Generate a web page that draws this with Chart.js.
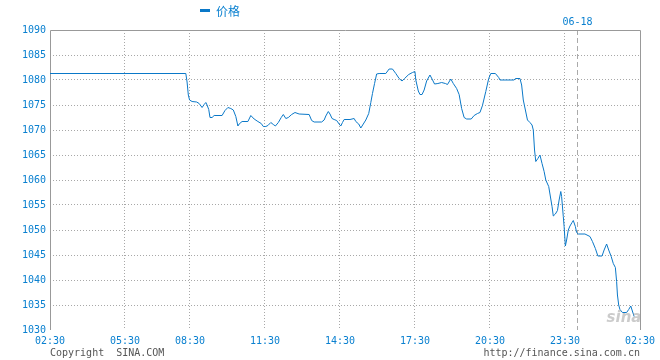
<!DOCTYPE html>
<html>
<head>
<meta charset="utf-8">
<script src="https://cdn.jsdelivr.net/npm/chart.js@4/dist/chart.umd.min.js"></script>
<style>
html,body{margin:0;padding:0;background:#fff;}
#wrap{width:660px;height:360px;position:relative;}
</style>
</head>
<body>
<div id="wrap"><canvas id="c" width="660" height="360"></canvas></div>
<script>
// ---- data ----
const seriesName = '价格';
const tickPositions = [0, 180, 336, 516, 696, 876, 1056, 1236, 1416];
const tickLabels = ['02:30', '05:30', '08:30', '11:30', '14:30', '17:30', '20:30', '23:30', '02:30'];
const dayBreak = 1266;
const dayLabel = '06-18';
const yTicks = [1030, 1035, 1040, 1045, 1050, 1055, 1060, 1065, 1070, 1075, 1080, 1085, 1090];

const minutes = [0,326,329,332,335,341,352,358,365,370,374,377,381,384,389,394,413,420,427,434,440,446,451,454,461,475,482,490,499,507,512,518,523,530,536,541,548,555,560,566,572,580,588,598,622,628,634,652,658,662,668,672,677,682,688,694,698,702,706,720,730,734,741,746,752,758,765,770,774,779,784,790,806,814,822,830,838,845,851,861,870,876,878,884,888,893,898,904,912,917,923,931,940,949,954,962,968,976,982,988,994,1000,1011,1018,1026,1032,1038,1046,1053,1058,1069,1077,1080,1114,1117,1128,1132,1136,1141,1146,1152,1157,1160,1163,1166,1171,1176,1181,1186,1190,1197,1200,1205,1208,1213,1218,1222,1226,1228,1232,1234,1237,1240,1244,1248,1253,1256,1261,1264,1268,1284,1296,1302,1309,1315,1325,1330,1336,1341,1347,1352,1357,1360,1362,1365,1368,1374,1384,1389,1394,1397,1402];
const prices = [1081.3,1081.3,1079.6,1077.0,1076.0,1075.7,1075.6,1075.3,1074.5,1075.1,1075.5,1075.0,1074.1,1072.5,1072.5,1072.9,1072.9,1073.9,1074.5,1074.3,1074.0,1072.7,1070.8,1071.2,1071.7,1071.7,1072.9,1072.2,1071.7,1071.3,1070.7,1070.7,1070.9,1071.5,1071.1,1070.8,1071.5,1072.5,1073.1,1072.3,1072.5,1073.1,1073.5,1073.2,1073.1,1071.9,1071.6,1071.6,1072.0,1072.8,1073.7,1073.2,1072.3,1072.1,1071.9,1071.2,1070.8,1071.5,1072.1,1072.1,1072.3,1071.7,1071.2,1070.4,1071.2,1072.0,1073.3,1075.5,1077.3,1079.3,1081.2,1081.3,1081.3,1082.2,1082.2,1081.3,1080.3,1079.8,1080.3,1081.1,1081.5,1081.7,1080.0,1077.8,1077.1,1077.1,1078.0,1079.8,1081.0,1080.2,1079.2,1079.3,1079.5,1079.3,1079.1,1080.2,1079.3,1078.3,1077.1,1074.3,1072.5,1072.2,1072.2,1072.9,1073.3,1073.5,1074.9,1077.7,1080.3,1081.3,1081.3,1080.5,1080.0,1080.0,1080.3,1080.3,1079.0,1076.0,1074.0,1072.0,1071.5,1071.0,1070.0,1066.0,1063.7,1064.3,1065.0,1063.3,1061.7,1060.0,1058.7,1057.2,1054.7,1052.8,1053.2,1053.9,1056.0,1057.7,1056.7,1052.7,1050.7,1046.8,1048.0,1050.0,1050.8,1051.5,1051.9,1050.7,1049.5,1049.2,1049.2,1048.7,1047.7,1046.3,1044.8,1044.8,1046.0,1047.2,1046.0,1044.7,1043.3,1042.5,1039.7,1037.0,1035.0,1034.1,1033.5,1033.5,1034.1,1034.8,1034.0,1032.7];

// ---- style ----
const BLUE = '#0a78c8';
const LABEL_BLUE = '#0a80d0';
const MONO = '"DejaVu Sans Mono", "Liberation Mono", monospace';

const framePlugin = {
  id: 'frame',
  beforeDatasetsDraw(chart) {
    const {ctx, chartArea: a, scales} = chart;
    ctx.save();
    // day break dashed line
    const dx = Math.round(scales.x.getPixelForValue(dayBreak)) + 0.5;
    ctx.strokeStyle = '#aaaaaa';
    ctx.lineWidth = 1;
    ctx.setLineDash([5, 3]);
    ctx.beginPath();
    ctx.moveTo(dx, a.top);
    ctx.lineTo(dx, a.bottom);
    ctx.stroke();
    ctx.setLineDash([]);
    // frame (top, left, right)
    ctx.strokeStyle = '#999999';
    const l = Math.round(a.left) + 0.5, r = Math.round(a.right) + 0.5, t = Math.round(a.top) + 0.5;
    ctx.beginPath();
    ctx.moveTo(l, a.bottom);
    ctx.lineTo(l, t);
    ctx.lineTo(r, t);
    ctx.lineTo(r, a.bottom);
    ctx.stroke();
    ctx.restore();
  },
  afterDraw(chart) {
    const {ctx, chartArea: a, scales} = chart;
    ctx.save();
    // day label
    ctx.font = '10px ' + MONO;
    ctx.fillStyle = LABEL_BLUE;
    ctx.textAlign = 'center';
    ctx.textBaseline = 'middle';
    ctx.fillText(dayLabel, scales.x.getPixelForValue(dayBreak), 22);
    // legend
    const ds = chart.data.datasets[0];
    ctx.fillStyle = ds.borderColor;
    ctx.fillRect(200, 9, 10, 3);
    ctx.font = '12px "Noto Sans CJK SC", sans-serif';
    ctx.fillStyle = LABEL_BLUE;
    ctx.textAlign = 'left';
    ctx.fillText(ds.label, 216, 11);
    // footer
    ctx.font = '10px ' + MONO;
    ctx.fillStyle = '#555555';
    ctx.textAlign = 'left';
    ctx.fillText('Copyright  SINA.COM', a.left, 353);
    ctx.textAlign = 'right';
    ctx.fillText('http://finance.sina.com.cn', a.right, 353);
    // watermark
    ctx.font = 'italic bold 15px "DejaVu Sans", sans-serif';
    ctx.fillStyle = 'rgba(160,160,160,0.55)';
    ctx.textAlign = 'center';
    ctx.fillText('sina', 624, 318);
    ctx.restore();
  }
};

new Chart(document.getElementById('c'), {
  type: 'line',
  data: {
    datasets: [{
      label: seriesName,
      data: minutes.map((m, i) => ({x: m, y: prices[i]})),
      borderColor: BLUE,
      borderWidth: 1,
      pointRadius: 0,
      tension: 0,
      fill: false
    }]
  },
  options: {
    responsive: false,
    animation: false,
    devicePixelRatio: 1,
    layout: {padding: {top: 30, left: 0, right: 20, bottom: 0}},
    plugins: {legend: {display: false}, tooltip: {enabled: false}},
    scales: {
      x: {
        type: 'linear',
        min: tickPositions[0],
        max: tickPositions[tickPositions.length - 1],
        afterBuildTicks: s => { s.ticks = tickPositions.map(v => ({value: v})); },
        afterFit: s => { s.height = 30; },
        ticks: {
          autoSkip: false, maxRotation: 0, padding: 5,
          color: LABEL_BLUE, font: {family: MONO, size: 10},
          callback: v => tickLabels[tickPositions.indexOf(v)]
        },
        grid: {
          drawTicks: false,
          color: c => (c.tick && c.tick.value > tickPositions[0] && c.tick.value < tickPositions[tickPositions.length - 1]) ? '#a8a8a8' : 'rgba(0,0,0,0)'
        },
        border: {display: false, dash: [1, 2]}
      },
      y: {
        min: yTicks[0],
        max: yTicks[yTicks.length - 1],
        afterBuildTicks: s => { s.ticks = yTicks.map(v => ({value: v})); },
        afterFit: s => { s.width = 50; },
        ticks: {
          padding: 4, color: LABEL_BLUE, font: {family: MONO, size: 10},
          callback: v => String(v)
        },
        grid: {
          drawTicks: false,
          color: c => (c.tick && c.tick.value > yTicks[0] && c.tick.value < yTicks[yTicks.length - 1]) ? '#a8a8a8' : 'rgba(0,0,0,0)'
        },
        border: {display: false, dash: [1, 2]}
      }
    }
  },
  plugins: [framePlugin]
});
</script>
</body>
</html>
